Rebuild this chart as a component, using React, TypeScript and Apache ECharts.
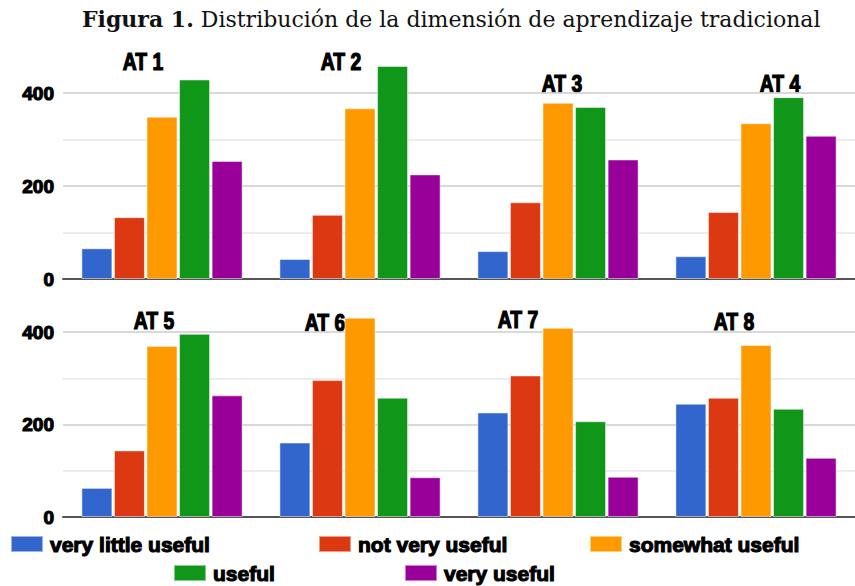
import React, { useEffect, useRef } from 'react';
import * as echarts from 'echarts';

const groupsTop = ['AT 1', 'AT 2', 'AT 3', 'AT 4'];
const groupsBottom = ['AT 5', 'AT 6', 'AT 7', 'AT 8'];
const seriesNames = ['very little useful', 'not very useful', 'somewhat useful', 'useful', 'very useful'];
const veryLittleUseful = [66, 43, 60, 49, 63, 161, 226, 245];
const notVeryUseful = [133, 138, 165, 144, 144, 296, 306, 258];
const somewhatUseful = [349, 367, 379, 335, 370, 431, 409, 372];
const usefulValues = [429, 458, 370, 391, 396, 258, 207, 234];
const veryUseful = [254, 225, 257, 308, 263, 86, 87, 128];
const yTickLabels = [0, 200, 400];

const seriesValues = [veryLittleUseful, notVeryUseful, somewhatUseful, usefulValues, veryUseful];
const colors = ['#3366cc', '#dc3912', '#ff9900', '#109618', '#990099'];
const groupLabelPos = [[143, 62], [341, 62], [562, 84], [780, 84], [154, 321], [325, 323], [518, 320], [734, 322]];
const legendPos = [[10, 533], [318, 533], [589, 533], [173, 562], [404, 562]];

const sansFont = "'Liberation Sans', Arial, sans-serif";
const serifFont = "'DejaVu Serif', 'Liberation Serif', serif";

export default function App() {
  const ref = useRef<HTMLDivElement>(null);
  useEffect(() => {
    document.body.style.margin = '0';
    const chart = echarts.init(ref.current!, null, { renderer: 'svg' });
    const allGroups = groupsTop.concat(groupsBottom);
    const mkY = (gi: number) => ({
      gridIndex: gi,
      type: 'value',
      min: 0,
      max: 400,
      interval: 100,
      axisLine: { show: false },
      axisTick: { show: false },
      axisLabel: {
        formatter: (v: number) => (yTickLabels.includes(v) ? String(v) : ''),
        fontSize: 19,
        fontWeight: 'bold',
        fontFamily: sansFont,
        color: '#000',
        textBorderColor: '#000',
        textBorderWidth: 1.1,
        margin: 9,
      },
      splitLine: { lineStyle: { color: ['#cccccc', '#e6e6e6', '#cccccc', '#e6e6e6', '#cccccc'], width: 1.5 } },
    });
    const mkX = (gi: number, data: string[]) => ({
      gridIndex: gi,
      type: 'category',
      data,
      axisLabel: { show: false },
      axisTick: { show: false },
      axisLine: { lineStyle: { color: '#555', width: 2 } },
    });
    const series: any[] = [];
    seriesNames.forEach((name, i) => {
      [0, 1].forEach((gi) => {
        series.push({
          name,
          type: 'bar',
          xAxisIndex: gi,
          yAxisIndex: gi,
          data: seriesValues[i].slice(gi * 4, gi * 4 + 4),
          barWidth: 31,
          barGap: '5%',
          clip: false,
          itemStyle: { color: colors[i], borderColor: 'rgba(255,255,255,0.5)', borderWidth: 1 },
        });
      });
    });
    const option: any = {
      animation: false,
      title: {
        left: 77,
        top: 3,
        text: '{b|Figura 1.}{r| Distribución de la dimensión de aprendizaje tradicional}',
        textStyle: {
          fontSize: 22,
          rich: {
            b: { fontFamily: serifFont, fontWeight: 'bold', fontSize: 22, color: '#111' },
            r: { fontFamily: serifFont, fontWeight: 'normal', fontSize: 22, color: '#111' },
          },
        },
      },
      grid: [
        { left: 63, top: 93, width: 796, height: 186 },
        { left: 63, top: 332, width: 796, height: 185 },
      ],
      xAxis: [mkX(0, groupsTop), mkX(1, groupsBottom)],
      yAxis: [mkY(0), mkY(1)],
      legend: seriesNames.map((n, i) => ({
        data: [n],
        left: legendPos[i][0],
        top: legendPos[i][1],
        padding: 0,
        itemWidth: 32,
        itemHeight: 16,
        icon: 'rect',
        selectedMode: false,
        textStyle: {
          fontSize: 21,
          lineHeight: 20,
          fontWeight: 'bold',
          fontFamily: sansFont,
          color: '#000',
          textBorderColor: '#000',
          textBorderWidth: 1.1,
          padding: [0, 0, 0, 2],
        },
      })),
      graphic: allGroups.map((g, i) => ({
        type: 'text',
        x: groupLabelPos[i][0],
        y: groupLabelPos[i][1],
        scaleX: 0.84,
        style: {
          text: g,
          fontSize: 23,
          fontWeight: 'bold',
          fontFamily: sansFont,
          fill: '#000',
          stroke: '#000',
          lineWidth: 1.2,
          align: 'center',
          verticalAlign: 'middle',
        },
      })),
      series,
    };
    chart.setOption(option);
    return () => chart.dispose();
  }, []);
  return <div ref={ref} style={{ width: 855, height: 586 }} />;
}
